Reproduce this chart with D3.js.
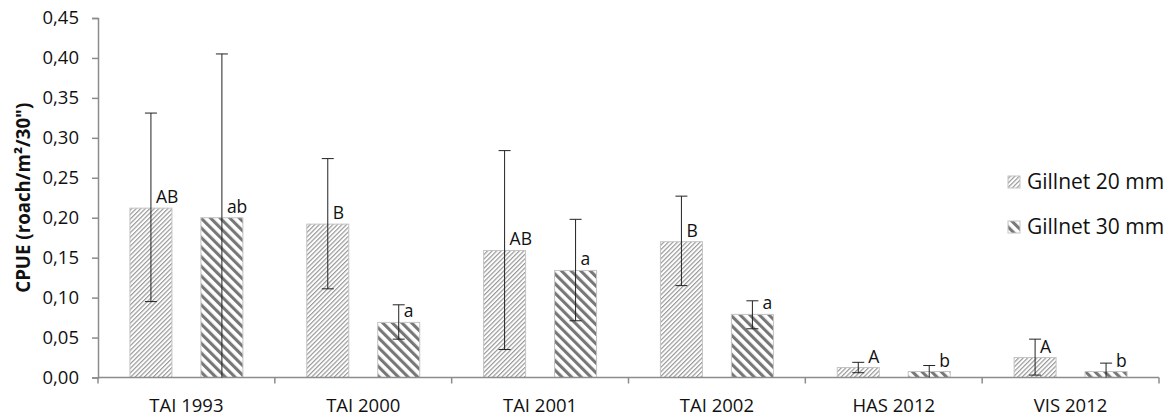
<!DOCTYPE html>
<html><head><meta charset="utf-8">
<script src="https://cdn.jsdelivr.net/npm/d3@7"></script>
<style>body{margin:0;background:#fff}</style>
</head><body><svg id="c" width="1172" height="417"></svg>
<script>
const categories = ["TAI 1993","TAI 2000","TAI 2001","TAI 2002","HAS 2012","VIS 2012"];
const seriesNames = ["Gillnet 20 mm","Gillnet 30 mm"];
const mean20 = [0.212,0.192,0.159,0.170,0.0125,0.025];
const errHigh20 = [0.331,0.274,0.284,0.227,0.019,0.048];
const errLow20 = [0.095,0.111,0.035,0.115,0.006,0.003];
const letters20 = ["AB","B","AB","B","A","A"];
const mean30 = [0.200,0.069,0.134,0.079,0.0075,0.0075];
const errHigh30 = [0.405,0.091,0.198,0.096,0.015,0.018];
const errLow30 = [0.0,0.048,0.071,0.061,0.0,0.0];
const letters30 = ["ab","a","a","a","b","b"];
const yTicks = [0,0.05,0.10,0.15,0.20,0.25,0.30,0.35,0.40,0.45];
const yTitle = "CPUE (roach/m²/30\")";

const FONT = "'Open Sans', Lato, sans-serif";
const svg = d3.select("#c");
const L = 98, R = 1159, T = 18, B = 377.5;

const defs = svg.append("defs");
const p1 = defs.append("pattern").attr("id","p20").attr("patternUnits","userSpaceOnUse")
  .attr("width",3.2).attr("height",10).attr("patternTransform","rotate(45)");
p1.append("rect").attr("width",3.2).attr("height",10).attr("fill","#fff");
p1.append("rect").attr("width",1.2).attr("height",10).attr("fill","#999");
const p2 = defs.append("pattern").attr("id","p30").attr("patternUnits","userSpaceOnUse")
  .attr("width",6.8).attr("height",10).attr("patternTransform","rotate(-45)");
p2.append("rect").attr("width",6.8).attr("height",10).attr("fill","#fff");
p2.append("rect").attr("width",3.1).attr("height",10).attr("fill","#777");
const fills = ["url(#p20)","url(#p30)"];

const x0 = d3.scaleBand().domain(categories).range([L,R]).padding(0);
const x1 = d3.scaleBand().domain(seriesNames).range([0,x0.bandwidth()]).paddingInner(0.408).paddingOuter(0.45);
const y = d3.scaleLinear().domain([0,0.45]).range([B,T]);

const series = [
  {name:seriesNames[0], mean:mean20, hi:errHigh20, lo:errLow20, lab:letters20},
  {name:seriesNames[1], mean:mean30, hi:errHigh30, lo:errLow30, lab:letters30}
];

// bars
series.forEach((s,si)=>{
  const g = svg.append("g");
  categories.forEach((c,i)=>{
    const bx = x0(c)+x1(s.name), bw = x1.bandwidth();
    g.append("rect").attr("x",bx).attr("y",y(s.mean[i])).attr("width",bw)
      .attr("height",y(0)-y(s.mean[i])).attr("fill",fills[si])
      .attr("stroke","#c4c4c4").attr("stroke-width",1);
  });
});

// axes
const yAxis = d3.axisLeft(y).tickValues(yTicks).tickSize(6).tickPadding(13)
  .tickFormat(d=>d3.format(".2f")(d).replace(".",","));
const ga = svg.append("g").attr("transform",`translate(${L},0)`).call(yAxis);
ga.select(".domain").attr("stroke","#8c8c8c").attr("stroke-width",1.5);
ga.selectAll(".tick line").attr("stroke","#8c8c8c").attr("stroke-width",1.5);
ga.selectAll(".tick text").attr("font-family",FONT).attr("font-size",18.5).attr("fill","#111");

const gx = svg.append("g");
gx.append("line").attr("x1",L).attr("x2",R).attr("y1",B).attr("y2",B)
  .attr("stroke","#8c8c8c").attr("stroke-width",1.5);
const bounds = categories.map(c=>x0(c)).concat([R]);
gx.selectAll("line.t").data(bounds).join("line").attr("class","t")
  .attr("x1",d=>d).attr("x2",d=>d).attr("y1",B).attr("y2",B+6)
  .attr("stroke","#8c8c8c").attr("stroke-width",1.5);
gx.selectAll("text").data(categories).join("text")
  .attr("x",d=>x0(d)+x0.bandwidth()/2).attr("y",411.5)
  .attr("text-anchor","middle").attr("font-family",FONT).attr("font-size",18.5).attr("fill","#111")
  .text(d=>d);

// error bars and letters
series.forEach((s,si)=>{
  const g = svg.append("g").attr("stroke","#222").attr("stroke-width",1);
  categories.forEach((c,i)=>{
    const cx = x0(c)+x1(s.name)+x1.bandwidth()/2;
    const yh = y(s.hi[i]), yl = y(s.lo[i]);
    g.append("line").attr("x1",cx).attr("x2",cx).attr("y1",yh).attr("y2",yl);
    g.append("line").attr("x1",cx-6).attr("x2",cx+6).attr("y1",yh).attr("y2",yh);
    if (s.lo[i] > 0.001) g.append("line").attr("x1",cx-6).attr("x2",cx+6).attr("y1",yl).attr("y2",yl);
    const base = y(s.mean[i]) - 5;
    const dx = (yh > base-12 && yh < base) ? 10 : 5;
    svg.append("text").attr("x",cx+dx).attr("y",base).attr("font-family",FONT)
      .attr("font-size",17.5).attr("fill","#111").text(s.lab[i]);
  });
});

// y title
svg.append("text").attr("transform",`translate(30,${(T+B)/2}) rotate(-90)`)
  .attr("text-anchor","middle").attr("font-family",FONT).attr("font-weight","bold")
  .attr("font-size",18.7).attr("fill","#111").text(yTitle);

// legend
const leg = svg.append("g");
seriesNames.forEach((n,i)=>{
  const cy = 182 + i*45;
  leg.append("rect").attr("x",1008).attr("y",cy-6).attr("width",12).attr("height",12)
    .attr("fill",fills[i]).attr("stroke","#c4c4c4");
  leg.append("text").attr("x",1027).attr("y",cy+7).attr("font-family",FONT)
    .attr("font-size",21).attr("fill","#111").text(n);
});
</script></body></html>
